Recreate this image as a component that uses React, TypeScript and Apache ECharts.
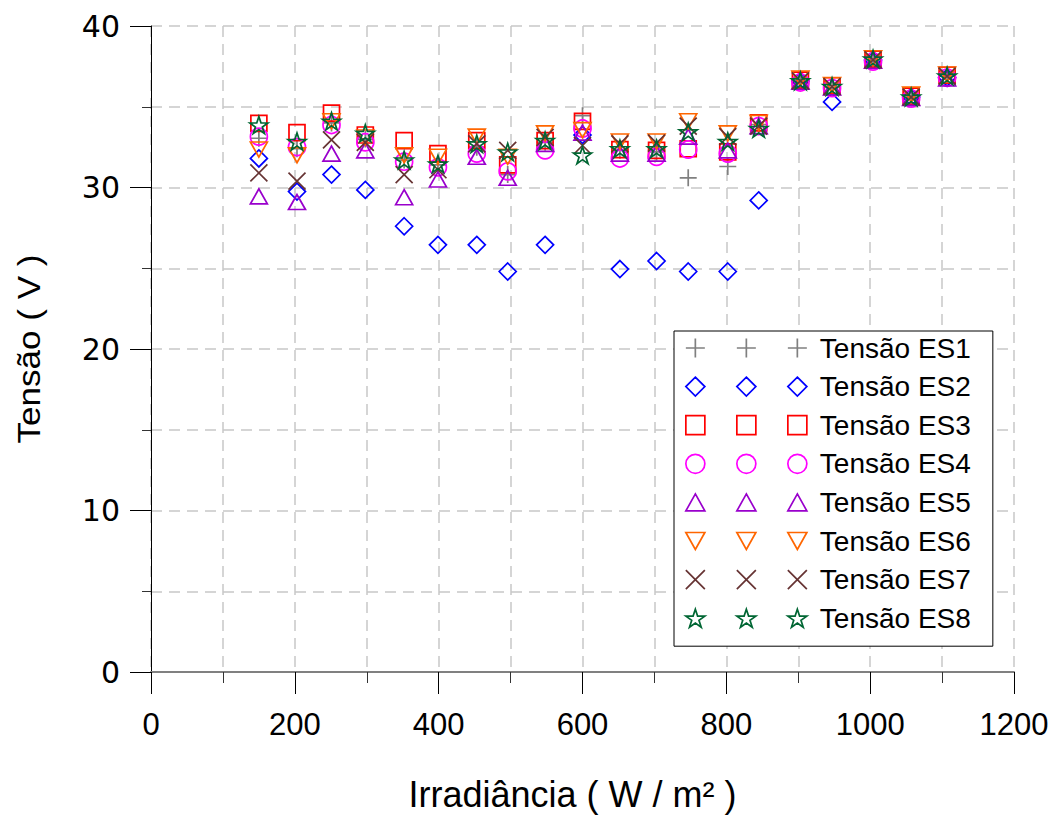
import React, { useEffect, useRef } from "react";
import * as echarts from "echarts";

// Irradiance (W/m²) of each measurement
const irradiance = [150, 203, 251, 298, 352, 399, 453, 496, 548, 600, 652, 703, 747, 802, 845, 903, 947, 1004, 1057, 1107];

// Voltage (V) of each string
const es1 = [33.05, 32.4, 34.0, 33.0, 31.7, 31.4, 32.5, 30.8, 32.8, 34.45, 32.3, 32.2, 30.6, 31.3, 33.9, 36.6, 36.2, 37.9, 35.6, 36.9];
const es2 = [31.8, 29.75, 30.8, 29.85, 27.6, 26.45, 26.45, 24.8, 26.45, 33.25, 24.95, 25.45, 24.8, 24.8, 29.2, 36.6, 35.3, 37.9, 35.6, 36.8];
const es3 = [33.97, 33.4, 34.6, 33.25, 32.9, 32.1, 32.9, 31.4, 32.9, 34.1, 32.35, 32.3, 32.4, 32.2, 34.0, 36.65, 36.3, 37.95, 35.65, 36.95];
const es4 = [33.15, 32.5, 33.87, 32.8, 31.6, 31.25, 32.1, 31.0, 32.3, 33.65, 31.8, 31.9, 32.35, 32.1, 33.8, 36.5, 36.15, 37.8, 35.5, 36.8];
const es5 = [29.45, 29.1, 32.1, 32.3, 29.4, 30.5, 31.9, 30.6, 32.7, 33.4, 32.1, 32.1, 33.15, 32.3, 33.8, 36.55, 36.2, 37.85, 35.55, 36.75];
const es6 = [32.35, 32.0, 34.1, 33.1, 32.0, 31.9, 33.15, 31.9, 33.35, 33.55, 32.85, 32.85, 34.1, 33.35, 34.0, 36.75, 36.35, 38.0, 35.75, 37.0];
const es7 = [30.9, 30.4, 32.95, 32.8, 30.8, 31.1, 32.7, 32.3, 33.1, 32.6, 32.7, 32.75, 33.8, 33.15, 33.8, 36.6, 36.25, 37.9, 35.6, 36.9];
const es8 = [33.87, 32.85, 34.1, 33.35, 31.7, 31.45, 32.7, 32.2, 32.9, 32.0, 32.4, 32.4, 33.45, 32.85, 33.65, 36.6, 36.25, 37.95, 35.6, 36.9];

const seriesValues = [es1, es2, es3, es4, es5, es6, es7, es8];
const seriesNames = ["Tensão ES1", "Tensão ES2", "Tensão ES3", "Tensão ES4", "Tensão ES5", "Tensão ES6", "Tensão ES7", "Tensão ES8"];
const seriesColors = ["#808080", "#0000ff", "#ff0000", "#ff00ff", "#9900cc", "#ff6600", "#663333", "#006633"];
const markerKinds = ["plus", "diamond", "square", "circle", "triangle", "itriangle", "cross", "star"];

const xAxisTitle = "Irradiância ( W / m² )";
const yAxisTitle = "Tensão ( V )";

const starCell = (dx: number) => {
  const p = [
    [9.5, 0], [11.75, 6.9], [19, 6.9], [13.13, 11.17], [15.37, 18.07],
    [9.5, 13.81], [3.63, 18.07], [5.87, 11.17], [0, 6.9], [7.25, 6.9],
  ];
  return "M" + p.map(([x, y]) => `${(x + dx).toFixed(2)} ${y}`).join(" L") + " Z";
};

const cellPath = (kind: string, dx: number): string => {
  switch (kind) {
    case "plus":
      return `M${dx} 9.5 L${dx + 19} 9.5 M${dx + 9.5} 0 L${dx + 9.5} 19`;
    case "diamond":
      return `M${dx + 9.5} 0 L${dx + 19} 9.5 L${dx + 9.5} 19 L${dx} 9.5 Z`;
    case "square":
      return `M${dx} 0 L${dx + 19} 0 L${dx + 19} 19 L${dx} 19 Z`;
    case "circle":
      return `M${dx} 9.5 A9.5 9.5 0 1 1 ${dx + 19} 9.5 A9.5 9.5 0 1 1 ${dx} 9.5 Z`;
    case "triangle":
      return `M${dx + 9.5} 0 L${dx + 19} 17 L${dx} 17 Z`;
    case "itriangle":
      return `M${dx} 0 L${dx + 19} 0 L${dx + 9.5} 17 Z`;
    case "cross":
      return `M${dx} 0 L${dx + 19} 19 M${dx + 19} 0 L${dx} 19`;
    default:
      return starCell(dx);
  }
};

const legendIcon = (kind: string) => "path://" + [0, 51, 102].map((dx) => cellPath(kind, dx)).join(" ");

const chartSymbol = (kind: string): { symbol: string; size: number[]; rotate: number } => {
  switch (kind) {
    case "plus":
      return { symbol: "path://M0 9 L18 9 M9 0 L9 18", size: [17, 17], rotate: 0 };
    case "diamond":
      return { symbol: "diamond", size: [17, 17], rotate: 0 };
    case "square":
      return { symbol: "rect", size: [16, 16], rotate: 0 };
    case "circle":
      return { symbol: "circle", size: [17, 17], rotate: 0 };
    case "triangle":
      return { symbol: "triangle", size: [17, 15], rotate: 0 };
    case "itriangle":
      return { symbol: "triangle", size: [17, 15], rotate: 180 };
    case "cross":
      return { symbol: "path://M0 0 L18 18 M18 0 L0 18", size: [17, 17], rotate: 0 };
    default:
      return { symbol: "path://" + starCell(0), size: [18, 17], rotate: 0 };
  }
};

const gridLine = { show: true, lineStyle: { color: "#c8c8c8", width: 1.5, type: [11, 7] as number[] } };
const arial = "Arial, 'Liberation Sans', sans-serif";

export default function App() {
  const ref = useRef<HTMLDivElement>(null);

  useEffect(() => {
    if (!ref.current) return;
    const chart = echarts.init(ref.current, undefined, { renderer: "svg" });

    const series = seriesNames.map((name, i) => {
      const s = chartSymbol(markerKinds[i]);
      return {
        name,
        type: "scatter",
        data: irradiance.map((x, j) => [x, seriesValues[i][j]]),
        symbol: s.symbol,
        symbolSize: s.size,
        symbolRotate: s.rotate,
        itemStyle: { color: "rgba(0,0,0,0)", borderColor: seriesColors[i], borderWidth: 1.7, opacity: 1 },
        emphasis: { disabled: true },
      };
    });

    chart.setOption({
      animation: false,
      backgroundColor: "#ffffff",
      grid: { left: 151, right: 42, top: 26, bottom: 146, containLabel: false },
      xAxis: {
        type: "value",
        min: 0,
        max: 1200,
        interval: 200,
        name: xAxisTitle,
        nameLocation: "middle",
        nameGap: 104,
        nameTextStyle: { fontFamily: arial, fontSize: 36, color: "#000", padding: [0, 20, 0, 0] },
        axisLine: { show: true, onZero: false, lineStyle: { color: "#808080", width: 2 } },
        axisTick: { show: true, length: 22, lineStyle: { color: "#000", width: 1 } },
        minorTick: { show: true, splitNumber: 2, length: 11, lineStyle: { color: "#333", width: 1 } },
        axisLabel: {
          margin: 37,
          fontFamily: arial,
          fontSize: 31,
          color: "#000",
          formatter: (v: number) => String(v),
        },
        splitLine: gridLine,
        minorSplitLine: gridLine,
      },
      yAxis: {
        type: "value",
        min: 0,
        max: 40,
        interval: 10,
        axisLine: { show: true, onZero: false, lineStyle: { color: "#000", width: 1 } },
        axisTick: { show: true, length: 21, lineStyle: { color: "#000", width: 1 } },
        minorTick: { show: true, splitNumber: 2, length: 9, lineStyle: { color: "#333", width: 1 } },
        axisLabel: { margin: 31, fontFamily: "'DejaVu Sans', sans-serif", fontSize: 30, color: "#000", formatter: (v: number) => String(v) },
        splitLine: gridLine,
        minorSplitLine: gridLine,
      },
      legend: {
        orient: "vertical",
        left: 674,
        top: 331,
        selectedMode: false,
        backgroundColor: "#ffffff",
        borderColor: "#000000",
        borderWidth: 1,
        borderRadius: 0,
        padding: [3, 22, 14, 11],
        itemWidth: 121,
        itemHeight: 19,
        itemGap: 10.6,
        textStyle: { fontFamily: arial, fontSize: 28, color: "#000", padding: [0, 0, 0, 8] },
        data: seriesNames.map((name, i) => ({
          name,
          icon: legendIcon(markerKinds[i]),
          itemStyle: { color: "rgba(0,0,0,0)", borderColor: seriesColors[i], borderWidth: 1.7 },
        })),
      },
      graphic: [
        {
          type: "text",
          x: 29,
          y: 349,
          rotation: Math.PI / 2,
          scaleX: 1.13,
          style: {
            text: yAxisTitle,
            font: "31px Arial, 'Liberation Sans', sans-serif",
            fill: "#000",
            align: "center",
            verticalAlign: "middle",
          },
        },
      ],
      series,
    });

    return () => chart.dispose();
  }, []);

  return <div ref={ref} style={{ position: "fixed", left: 0, top: 0, width: 1056, height: 818 }} />;
}
